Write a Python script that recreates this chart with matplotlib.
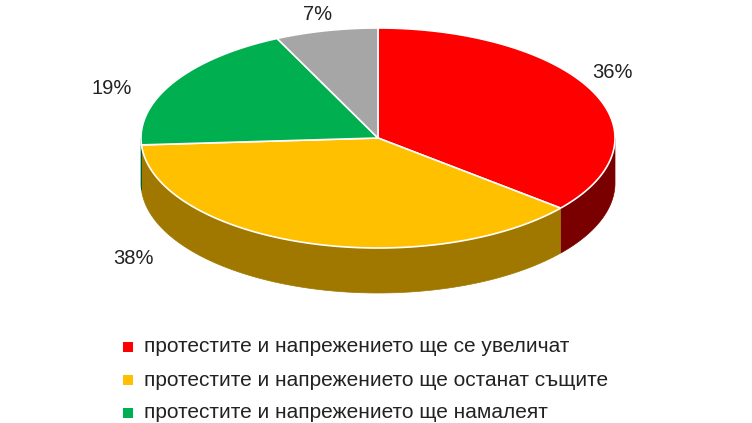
import numpy as np
import matplotlib.pyplot as plt
from matplotlib.patches import Polygon

labels = ["протестите и напрежението ще се увеличат",
          "протестите и напрежението ще останат същите",
          "протестите и напрежението ще намалеят"]
values = [36, 38, 19, 7]
colors = ["#ff0000", "#ffc000", "#00b050", "#a6a6a6"]
side_colors = ["#7a0000", "#a07800", "#006030", "#606060"]
pct_pos = [(612, 72), (133, 258), (112, 88), (318, 14)]

fig = plt.figure(figsize=(7.52, 4.23), dpi=100)
ax = fig.add_axes([0, 0, 1, 1])
ax.set_xlim(0, 752); ax.set_ylim(423, 0); ax.axis("off")
cx, cy, rx, ry, depth = 378, 138, 237, 110, 45

def pt(t):
    return cx + rx*np.cos(t), cy - ry*np.sin(t)

fr = np.array(values)/sum(values)*2*np.pi
starts = np.pi/2 - np.concatenate([[0], np.cumsum(fr)[:-1]])
for s, f, c in zip(starts, fr, side_colors):
    a0, a1 = s - f, s
    for lo, hi in [(-np.pi, 0), (-3*np.pi, -2*np.pi)]:
        l, h = max(a0, lo), min(a1, hi)
        if h > l:
            t = np.linspace(l, h, 100)
            x, y = pt(t)
            poly = np.column_stack([np.r_[x, x[::-1]], np.r_[y, y[::-1]+depth]])
            ax.add_patch(Polygon(poly, closed=True, fc=c, ec=c, lw=0.5))
for s, f, c in zip(starts, fr, colors):
    t = np.linspace(s - f, s, 200)
    x, y = pt(t)
    poly = np.column_stack([np.r_[cx, x], np.r_[cy, y]])
    ax.add_patch(Polygon(poly, closed=True, fc=c, ec="white", lw=1.2))
for v, (x, y) in zip(values, pct_pos):
    ax.text(x, y, f"{v}%", fontsize=14.5, ha="center", va="center", family="Liberation Sans", color="#222222")
for i, (lab, c) in enumerate(zip(labels, colors)):
    y = 347 + i*33
    ax.add_patch(plt.Rectangle((123, y-5), 10, 10, fc=c, ec="none"))
    ax.text(144, y, lab, fontsize=15, va="center", family="Liberation Sans", color="#222222")
fig.savefig("out.png", dpi=100)
